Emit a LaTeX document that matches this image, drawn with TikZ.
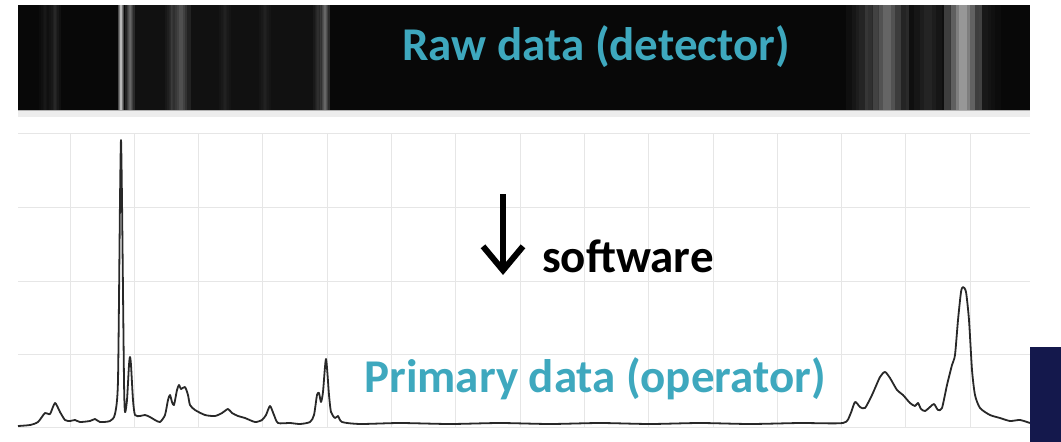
\documentclass[tikz,border=0pt]{standalone}
\usepackage{fontspec}
\setmainfont{Carlito}
\usetikzlibrary{arrows.meta,positioning}
\definecolor{TL}{RGB}{62,168,190}
\definecolor{NV}{RGB}{20,24,76}
\definecolor{GR}{RGB}{230,230,230}
\definecolor{BK}{RGB}{8,8,8}
\definecolor{SP}{RGB}{40,40,40}
\tikzset{
  % teal captions
  ttl/.style={
    font=\fontsize{47}{50}\selectfont\bfseries,
    text=TL, inner sep=0pt, anchor=base
  },
  % black label beside the arrow
  lbl/.style={
    font=\fontsize{47}{50}\selectfont\bfseries,
    text=black, inner sep=0pt, anchor=base west
  },
  gridline/.style={draw=GR, line width=1pt},
  spec/.style={draw=SP, line width=1.8pt, line join=round},
}

\begin{document}
\begin{tikzpicture}[x=1pt, y=-1pt]
\useasboundingbox (0,0) rectangle (1061,442);

% ── Detector band ───────────────────────────────────────────────────────────
\fill[BK] (18,5) rectangle (1030,110);
\fill[white, opacity=0.04] (130,5) rectangle (330,110);
% soft emission lines: x / half width / peak brightness
\foreach \x/\w/\o in {45/4/0.06, 55/4/0.12, 121/2/0.9, 130/3/0.35,
    171/4/0.10, 181/6/0.25, 225/4/0.06, 265/4/0.06, 318/3/0.12, 325/3/0.35,
    862/10/0.10, 887/14/0.38, 928/14/0.10, 963/12/0.65, 985/10/0.06}{
  \foreach \f in {1.6,1.0,0.6,0.3}{
    \pgfmathsetmacro\oo{\o*0.3}
    \fill[white, opacity=\oo] ({\x-\w*\f},5) rectangle ({\x+\w*\f},110);
  }
}
\fill[GR!70] (18,110) rectangle (1030,117);
\draw[gray!60, line width=0.8pt] (18,110.5) -- (1030,110.5);

% ── Plot grid ───────────────────────────────────────────────────────────────
\foreach \y in {133,207,281,354,427}
  \draw[gridline] (18,\y) -- (1030,\y);
\foreach \k in {0,...,14}
  \draw[gridline] ({70+64.3*\k},133) -- ({70+64.3*\k},427);

% ── Spectrum ────────────────────────────────────────────────────────────────
\draw[spec] plot[smooth, tension=0.4] coordinates {
  (18,426) (30,425) (38,422) (45,413) (50,414) (55,403) (60,412) (65,420)
  (70,421) (75,420) (80,422) (90,421) (95,419) (100,422) (110,421) (115,414)
  (118,380) (120,200) (121,140) (122,200) (124,380) (125,412) (127,400)
  (129,365) (130,357) (131,365) (133,400) (135,415) (140,416) (145,415)
  (150,417) (155,420) (160,422) (165,415) (168,400) (170,395) (172,402)
  (174,405) (177,390) (179,385) (181,389) (185,387) (188,395) (190,405)
  (195,410) (205,415) (215,416) (222,413) (228,409) (232,413) (238,416)
  (245,418) (255,422) (262,420) (266,415) (270,406) (274,415) (278,423)
  (290,423) (300,424) (310,422) (314,415) (317,395) (319,393) (321,402)
  (323,392) (326,359) (329,395) (331,412) (335,418) (338,416) (342,422)
  (360,424) (400,423) (450,424) (500,423) (550,424) (600,423) (650,424)
  (700,423) (750,424) (800,423) (843,423) (850,415) (855,402) (860,407)
  (865,408) (872,395) (880,377) (885,372) (890,378) (897,390) (903,395)
  (910,403) (915,406) (918,403) (921,409) (925,411) (930,407) (934,404)
  (938,410) (942,408) (947,385) (952,365) (955,355) (958,320) (961,292)
  (963,287) (966,292) (969,320) (972,370) (975,395) (980,408) (990,415)
  (1000,418) (1010,421) (1020,420) (1030,423)
};

% ── Captions and arrow ──────────────────────────────────────────────────────
\node[ttl] (raw) at (596,60) {Raw data (detector)};
\node[ttl] (prim) at (595,392) {Primary data (operator)};
\coordinate (atop) at (503,194);
\coordinate (atip) at (503,275);
\draw[line width=6pt, -{Straight Barb[length=24pt, width=40pt]}]
  (atop) -- (atip);
\node[lbl] (soft) at (542,272) {software};

% ── Corner block ────────────────────────────────────────────────────────────
\fill[NV] (1030,347) rectangle (1061,442);

\end{tikzpicture}
\end{document}
